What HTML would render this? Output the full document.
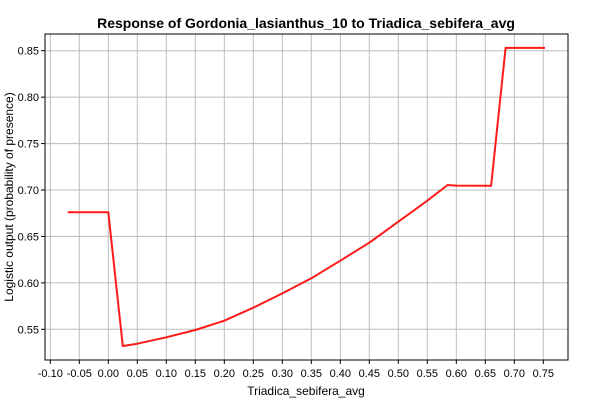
<!DOCTYPE html>
<html><head><meta charset="utf-8"><style>
body{margin:0;background:#fff;font-family:"Liberation Sans",sans-serif}
</style></head><body>
<svg id="chart" width="600" height="400" xmlns="http://www.w3.org/2000/svg" font-family="Liberation Sans, sans-serif">
<rect width="600" height="400" fill="#fff"/>
<text x="306" y="28" text-anchor="middle" font-size="14" font-weight="bold">Response of Gordonia_lasianthus_10 to Triadica_sebifera_avg</text>
<text x="306" y="395" text-anchor="middle" font-size="12">Triadica_sebifera_avg</text>
<text transform="translate(13,197) rotate(-90)" text-anchor="middle" font-size="12">Logistic output (probability of presence)</text>
<g id="grid"></g><g id="axes"></g><g id="series"></g>
</svg>
<script>
const xTicks=[-0.10,-0.05,0.00,0.05,0.10,0.15,0.20,0.25,0.30,0.35,0.40,0.45,0.50,0.55,0.60,0.65,0.70,0.75];
const yTicks=[0.55,0.60,0.65,0.70,0.75,0.80,0.85];
const xValues=[-0.07,0.0,0.025,0.05,0.10,0.15,0.20,0.25,0.30,0.35,0.40,0.45,0.50,0.55,0.585,0.60,0.66,0.685,0.753];
const yValues=[0.676,0.676,0.532,0.5345,0.5414,0.5492,0.5593,0.5733,0.5887,0.6049,0.6239,0.6433,0.6659,0.6885,0.7054,0.7047,0.7045,0.853,0.853];
const L=45,R=568,T=34,B=360;
const sx=v=>108.3+v/0.05*29.0;
const sy=v=>190-(v-0.70)/0.05*46.43;
const NS="http://www.w3.org/2000/svg";
function mk(tag,attrs,parent){const e=document.createElementNS(NS,tag);for(const k in attrs)e.setAttribute(k,attrs[k]);parent.appendChild(e);return e;}
const grid=document.getElementById('grid'),axes=document.getElementById('axes'),series=document.getElementById('series');
xTicks.forEach(t=>{const x=sx(t);
 const g=mk('line',{x1:x,x2:x,y1:T,y2:B,stroke:'#bdbdbd','stroke-width':1},grid);
 
 
 mk('line',{x1:x,x2:x,y1:B,y2:B+4,stroke:'#000'},axes);
 const tx=mk('text',{x:x,y:B+17,'text-anchor':'middle','font-size':11},axes);
 tx.textContent=t.toFixed(2);
 
 
});
yTicks.forEach(t=>{const y=sy(t);
 const g=mk('line',{x1:L,x2:R,y1:y,y2:y,stroke:'#bdbdbd','stroke-width':1},grid);
 
 
 mk('line',{x1:L-4,x2:L,y1:y,y2:y,stroke:'#000'},axes);
 const tx=mk('text',{x:L-6,y:y+4,'text-anchor':'end','font-size':11},axes);
 tx.textContent=t.toFixed(2);
 
 
});
const fr=mk('rect',{x:L,y:T,width:R-L,height:B-T,fill:'none',stroke:'#000','stroke-width':1},axes);


const pts=xValues.map((v,i)=>sx(v).toFixed(1)+','+sy(yValues[i]).toFixed(1)).join(' ');
const line=mk('polyline',{points:pts,fill:'none',stroke:'#ff1a1a','stroke-width':2,'stroke-linejoin':'round'},series);


</script>
</body></html>
